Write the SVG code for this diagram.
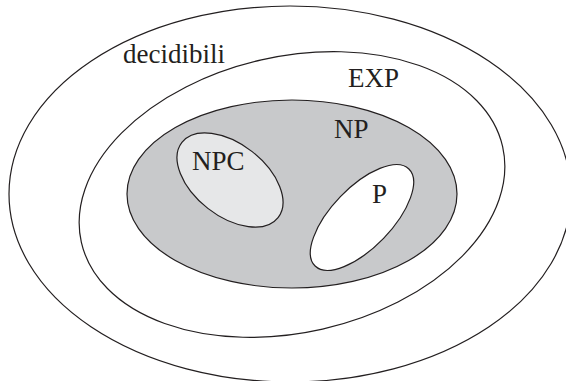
<svg xmlns="http://www.w3.org/2000/svg" width="566" height="381" viewBox="0 0 566 381">
<style>
.set{stroke:#231f20;stroke-width:1.2}
.lbl{font-family:"Liberation Serif","Times New Roman",serif;font-size:27px;fill:#231f20}
</style>
<rect width="566" height="381" fill="#ffffff"/>
<g id="decidibili">
<ellipse class="set" cx="290" cy="194" rx="281" ry="188" fill="#ffffff"/>
<text class="lbl" x="123" y="63">decidibili</text>
</g>
<g id="EXP">
<ellipse class="set" cx="292" cy="194.5" rx="216" ry="138" transform="rotate(-12.8 292 194.5)" fill="#ffffff"/>
<text class="lbl" x="348" y="87">EXP</text>
</g>
<g id="NP">
<ellipse class="set" cx="292" cy="194" rx="165" ry="94" fill="#c8c9cb"/>
<text class="lbl" x="334" y="138">NP</text>
</g>
<g id="NPC">
<ellipse class="set" cx="230" cy="180" rx="61" ry="36" transform="rotate(38 230 180)" fill="#e6e7e8"/>
<text class="lbl" x="192" y="170">NPC</text>
</g>
<g id="P">
<ellipse class="set" cx="362" cy="217.5" rx="67.5" ry="30" transform="rotate(-46 362 217.5)" fill="#ffffff"/>
<text class="lbl" x="372" y="203">P</text>
</g>
<g id="connectors"></g>
</svg>
